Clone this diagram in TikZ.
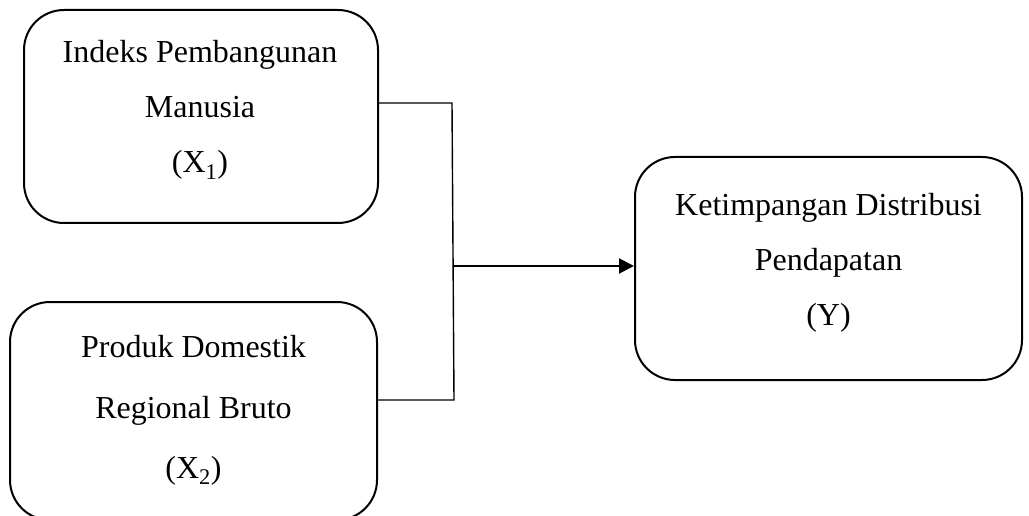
\documentclass[tikz,border=0pt]{standalone}
\usepackage{fontspec}
\setmainfont{Liberation Serif}
\usetikzlibrary{arrows.meta}
\begin{document}
\begin{tikzpicture}[x=1pt,y=-1pt,
  box/.style={draw,line width=2pt,rounded corners=40pt,inner sep=0pt},
  lbl/.style={font=\fontsize{32}{55}\selectfont,anchor=base},
  conn/.style={line width=1.4pt},
  arr/.style={line width=2pt,-{Triangle[length=15pt,width=15pt]}}]
\useasboundingbox (0,0) rectangle (1029,516);
\node[box,minimum width=354pt,minimum height=213pt] (b1) at (201,116.5) {};
\node[box,minimum width=367pt,minimum height=218pt] (b2) at (193.5,411) {};
\node[box,minimum width=387pt,minimum height=223pt] (b3) at (828.5,268.5) {};
% texts box 1
\node[lbl] (t11) at (200,63) {Indeks Pembangunan};
\node[lbl] (t12) at (200,118) {Manusia};
\node[lbl] (t13) at (200,173) {(X\textsubscript{1})};
% texts box 2
\node[lbl] (t21) at (193.5,357) {Produk Domestik};
\node[lbl] (t22) at (193.5,418) {Regional Bruto};
\node[lbl] (t23) at (193.5,478) {(X\textsubscript{2})};
% texts box 3
\node[lbl] (t31) at (828.5,215) {Ketimpangan Distribusi};
\node[lbl] (t32) at (828.5,270) {Pendapatan};
\node[lbl] (t33) at (828.5,325) {(Y)};
% connectors
\coordinate (jt) at (452,103);
\coordinate (jb) at (454,400);
\coordinate (jm) at (454,266);
\draw[conn] (b1.east |- jt) -- (jt) -- (jb) -- (b2.east |- jb);
\draw[arr] (jm) -- (b3.west |- jm);
\end{tikzpicture}
\end{document}
